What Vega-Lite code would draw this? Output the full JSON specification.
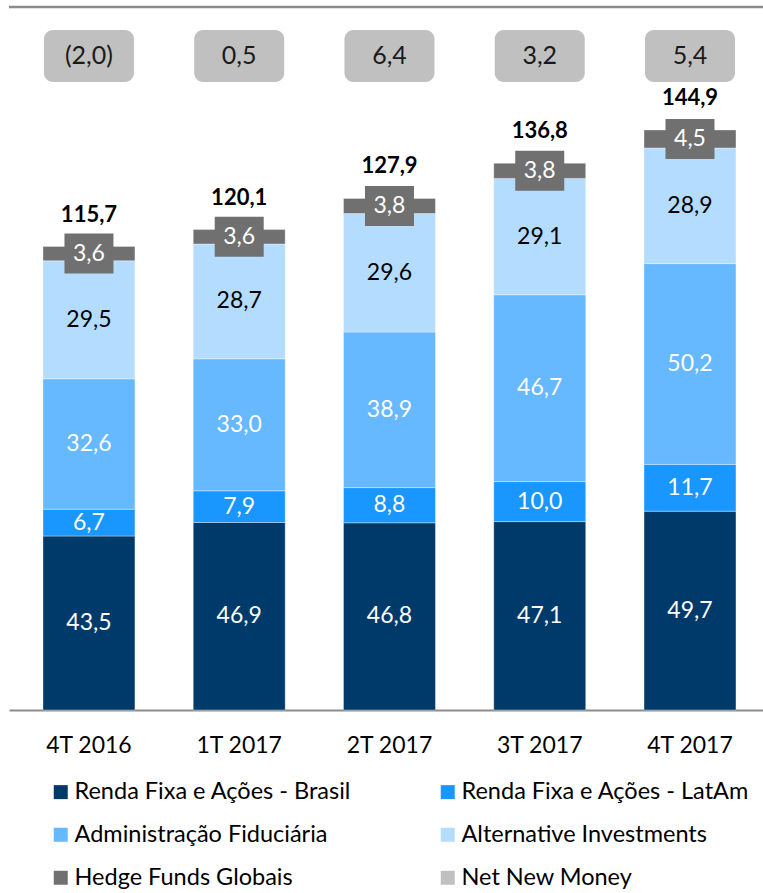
{
  "$schema": "https://vega.github.io/schema/vega-lite/v6.json",
  "autosize": "none",
  "width": 754,
  "height": 703,
  "padding": {"left": 9, "top": 7, "right": 0, "bottom": 183},
  "background": "white",
  "config": {
    "view": {"stroke": null},
    "font": "Lato",
    "locale": {"number": {"decimal": ",", "thousands": ".", "grouping": [3], "currency": ["R$", ""]}}
  },
  "datasets": {
    "seg": [
      {"q": "4T 2016", "s": "Renda Fixa e Ações - Brasil", "v": 43.5, "o": 1},
      {"q": "4T 2016", "s": "Renda Fixa e Ações - LatAm", "v": 6.7, "o": 2},
      {"q": "4T 2016", "s": "Administração Fiduciária", "v": 32.6, "o": 3},
      {"q": "4T 2016", "s": "Alternative Investments", "v": 29.5, "o": 4},
      {"q": "4T 2016", "s": "Hedge Funds Globais", "v": 3.6, "o": 5},
      {"q": "1T 2017", "s": "Renda Fixa e Ações - Brasil", "v": 46.9, "o": 1},
      {"q": "1T 2017", "s": "Renda Fixa e Ações - LatAm", "v": 7.9, "o": 2},
      {"q": "1T 2017", "s": "Administração Fiduciária", "v": 33.0, "o": 3},
      {"q": "1T 2017", "s": "Alternative Investments", "v": 28.7, "o": 4},
      {"q": "1T 2017", "s": "Hedge Funds Globais", "v": 3.6, "o": 5},
      {"q": "2T 2017", "s": "Renda Fixa e Ações - Brasil", "v": 46.8, "o": 1},
      {"q": "2T 2017", "s": "Renda Fixa e Ações - LatAm", "v": 8.8, "o": 2},
      {"q": "2T 2017", "s": "Administração Fiduciária", "v": 38.9, "o": 3},
      {"q": "2T 2017", "s": "Alternative Investments", "v": 29.6, "o": 4},
      {"q": "2T 2017", "s": "Hedge Funds Globais", "v": 3.8, "o": 5},
      {"q": "3T 2017", "s": "Renda Fixa e Ações - Brasil", "v": 47.1, "o": 1},
      {"q": "3T 2017", "s": "Renda Fixa e Ações - LatAm", "v": 10.0, "o": 2},
      {"q": "3T 2017", "s": "Administração Fiduciária", "v": 46.7, "o": 3},
      {"q": "3T 2017", "s": "Alternative Investments", "v": 29.1, "o": 4},
      {"q": "3T 2017", "s": "Hedge Funds Globais", "v": 3.8, "o": 5},
      {"q": "4T 2017", "s": "Renda Fixa e Ações - Brasil", "v": 49.7, "o": 1},
      {"q": "4T 2017", "s": "Renda Fixa e Ações - LatAm", "v": 11.7, "o": 2},
      {"q": "4T 2017", "s": "Administração Fiduciária", "v": 50.2, "o": 3},
      {"q": "4T 2017", "s": "Alternative Investments", "v": 28.9, "o": 4},
      {"q": "4T 2017", "s": "Hedge Funds Globais", "v": 4.5, "o": 5}
    ],
    "tot": [
      {"q": "4T 2016", "total": 115.7, "nnm": "(2,0)"},
      {"q": "1T 2017", "total": 120.1, "nnm": "0,5"},
      {"q": "2T 2017", "total": 127.9, "nnm": "6,4"},
      {"q": "3T 2017", "total": 136.8, "nnm": "3,2"},
      {"q": "4T 2017", "total": 144.9, "nnm": "5,4"}
    ]
  },
  "layer": [
    {
      "data": {"name": "seg"},
      "transform": [
        {"stack": "v", "groupby": ["q"], "sort": [{"field": "o", "order": "ascending"}], "as": ["v0", "v1"]}
      ],
      "mark": {"type": "bar", "stroke": "#ffffff", "strokeOpacity": 0.35, "strokeWidth": 1},
      "encoding": {
        "x": {
          "field": "q", "type": "nominal", "sort": null,
          "scale": {"paddingInner": 0.388, "paddingOuter": 0.203, "align": 0.557},
          "axis": {
            "title": null, "labelAngle": 0, "ticks": false,
            "domainColor": "#8c8c8c", "domainWidth": 2,
            "labelFontSize": 23, "labelColor": "#000000", "labelPadding": 24,
            "labelFont": "Lato"
          }
        },
        "y": {"field": "v0", "type": "quantitative", "scale": {"domain": [0, 175.75], "nice": false, "zero": true}, "axis": null},
        "y2": {"field": "v1"},
        "color": {
          "field": "s", "type": "nominal",
          "scale": {
            "domain": ["Renda Fixa e Ações - Brasil", "Administração Fiduciária", "Hedge Funds Globais", "Renda Fixa e Ações - LatAm", "Alternative Investments", "Net New Money"],
            "range": ["#003a6b", "#66b8ff", "#707070", "#1a96ff", "#b3dcff", "#c0c0c0"]
          },
          "legend": {
            "title": null, "orient": "none", "legendX": 40, "legendY": 773,
            "columns": 2, "columnPadding": 84, "rowPadding": 18,
            "symbolType": "square", "symbolSize": 196, "symbolStrokeWidth": 0,
            "labelFontSize": 23.5, "labelColor": "#000000", "labelFont": "Lato",
            "labelOffset": 2, "labelLimit": 400
          }
        }
      }
    },
    {
      "data": {"name": "seg"},
      "transform": [
        {"stack": "v", "groupby": ["q"], "sort": [{"field": "o", "order": "ascending"}], "as": ["v0", "v1"]},
        {"calculate": "(datum.v0 + datum.v1) / 2", "as": "mid"},
        {"filter": "datum.s === 'Hedge Funds Globais'"}
      ],
      "mark": {"type": "point", "shape": "M-1.225,-1H1.225V1H-1.225Z", "size": 1600, "filled": true, "fill": "#707070", "opacity": 1, "strokeWidth": 0},
      "encoding": {
        "x": {"field": "q", "type": "nominal", "sort": null},
        "y": {"field": "mid", "type": "quantitative"}
      }
    },
    {
      "data": {"name": "seg"},
      "transform": [
        {"stack": "v", "groupby": ["q"], "sort": [{"field": "o", "order": "ascending"}], "as": ["v0", "v1"]},
        {"calculate": "(datum.v0 + datum.v1) / 2", "as": "mid"}
      ],
      "mark": {"type": "text", "fontSize": 23, "font": "Lato", "baseline": "middle"},
      "encoding": {
        "x": {"field": "q", "type": "nominal", "sort": null},
        "y": {"field": "mid", "type": "quantitative"},
        "text": {"field": "v", "type": "quantitative", "format": ".1f"},
        "color": {
          "condition": {"test": "datum.s === 'Alternative Investments'", "value": "#000000"},
          "value": "#ffffff"
        }
      }
    },
    {
      "data": {"name": "tot"},
      "mark": {"type": "text", "fontSize": 22, "fontWeight": "bold", "font": "Lato", "baseline": "bottom", "dy": -20, "color": "#000000"},
      "encoding": {
        "x": {"field": "q", "type": "nominal", "sort": null},
        "y": {"field": "total", "type": "quantitative"},
        "text": {"field": "total", "type": "quantitative", "format": ".1f"}
      }
    },
    {
      "data": {"name": "tot"},
      "mark": {"type": "bar", "width": 90, "cornerRadius": 9, "color": "#c0c0c0"},
      "encoding": {
        "x": {"field": "q", "type": "nominal", "sort": null},
        "y": {"datum": 157},
        "y2": {"datum": 170}
      }
    },
    {
      "data": {"name": "tot"},
      "mark": {"type": "text", "fontSize": 25, "font": "Lato", "baseline": "middle", "color": "#1a1a1a"},
      "encoding": {
        "x": {"field": "q", "type": "nominal", "sort": null},
        "y": {"datum": 163.5},
        "text": {"field": "nnm", "type": "nominal"}
      }
    },
    {
      "data": {"values": [{}]},
      "mark": {"type": "rule", "color": "#8c8c8c", "strokeWidth": 2.5},
      "encoding": {
        "y": {"datum": 175.75}
      }
    }
  ]
}
